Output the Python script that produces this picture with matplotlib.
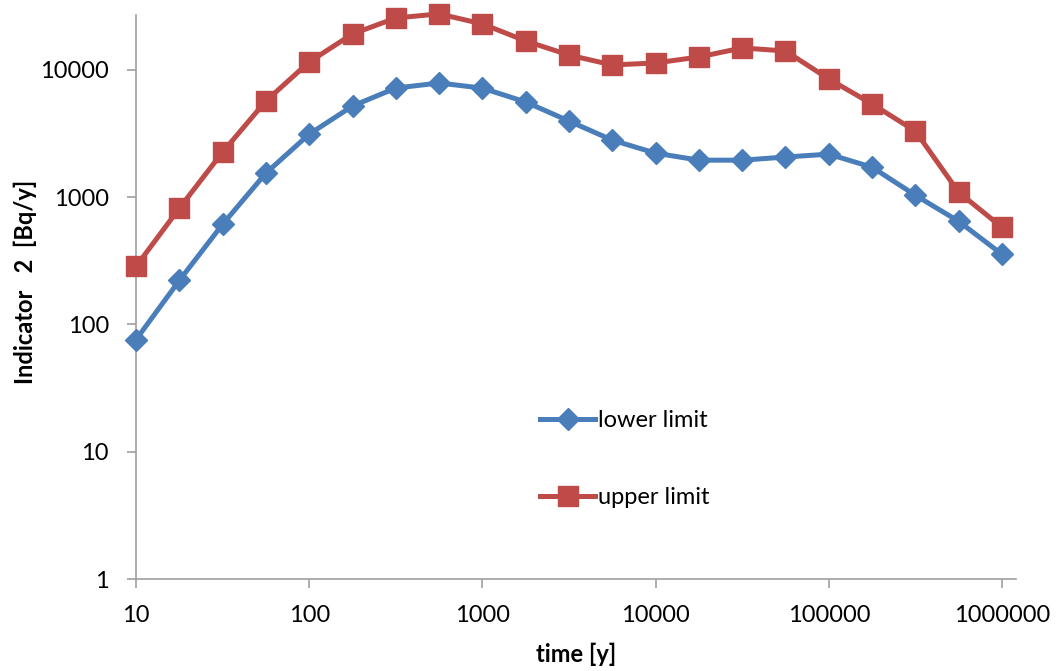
import matplotlib
matplotlib.use('Agg')
import matplotlib.pyplot as plt
import numpy as np

plt.rcParams['font.family'] = ['Lato', 'DejaVu Sans']

time_y = [10, 17.8, 31.6, 56.2, 100, 178, 316, 562, 1000, 1780, 3160, 5620,
          10000, 17800, 31600, 56200, 100000, 178000, 316000, 562000, 1000000]
lower = [76, 222, 612, 1545, 3130, 5210, 7210, 7900, 7200, 5600, 3970, 2810,
         2220, 1955, 1955, 2070, 2180, 1720, 1037, 647, 356]
upper = [286, 820, 2260, 5700, 11560, 19200, 25600, 27600, 23000, 16900, 13100, 10950,
         11350, 12650, 14900, 14100, 8500, 5400, 3310, 1095, 580]
xticks = [10, 100, 1000, 10000, 100000, 1000000]
yticks = [1, 10, 100, 1000, 10000]

W, H = 1059, 671
fig = plt.figure(figsize=(W / 100, H / 100), dpi=100)
ax = fig.add_axes([136 / W, 1 - 579 / H, (1016 - 136) / W, (579 - 15) / H])

blue = '#4A7EBB'
red = '#BE4B48'
ax.plot(time_y, lower, color=blue, lw=3.6, marker='D', ms=11.5, label='lower limit',
        clip_on=False, zorder=3)
ax.plot(time_y, upper, color=red, lw=3.6, marker='s', ms=14, label='upper limit',
        clip_on=False, zorder=3)

ax.set_xscale('log')
ax.set_yscale('log')
ax.set_xlim(10, 10 ** 6.081)
ax.set_ylim(1, 10 ** 4.432)
ax.set_xticks(xticks)
ax.set_xticklabels([str(v) for v in xticks])
ax.set_yticks(yticks)
ax.set_yticklabels([str(v) for v in yticks])
ax.minorticks_off()

for s in ['top', 'right']:
    ax.spines[s].set_visible(False)
for s in ['left', 'bottom']:
    ax.spines[s].set_color('#A0A0A0')
    ax.spines[s].set_linewidth(1.2)
ax.tick_params(axis='both', color='#A0A0A0', width=1.2, length=6.5, labelsize=17)
ax.tick_params(axis='y', pad=13)
ax.tick_params(axis='x', pad=12)

ax.set_xlabel('time [y]', fontsize=17, fontweight='bold', labelpad=12)
ax.set_ylabel('Indicator   2  [Bq/y]', fontsize=17, fontweight='bold')
ax.yaxis.set_label_coords(-0.113, 0.527)

ax.legend(loc='upper left', bbox_to_anchor=(0.459, 0.3), frameon=False,
          fontsize=17, handlelength=2.35, handletextpad=0.12, labelspacing=2.4,
          borderpad=0, borderaxespad=0)

fig.savefig('out.png', dpi=100)
